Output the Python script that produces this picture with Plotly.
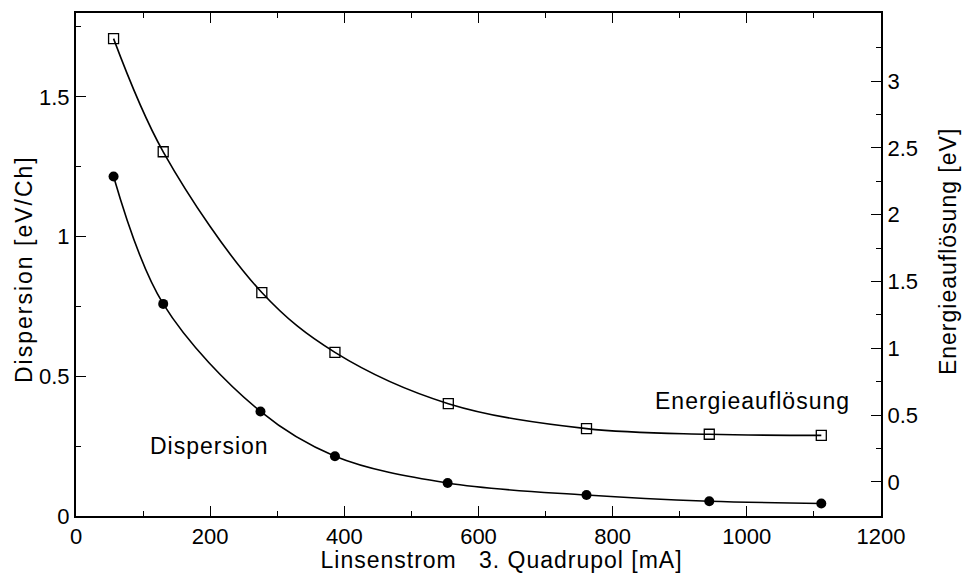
import plotly.graph_objects as go

# Data
strom = [56, 130, 275, 386, 554, 761, 944, 1111]
strom_e = [56, 130, 277, 386, 555, 761, 944, 1111]
dispersion = [1.215, 0.759, 0.374, 0.214, 0.118, 0.075, 0.053, 0.045]
energie = [3.318, 2.471, 1.417, 0.969, 0.585, 0.398, 0.356, 0.348]

x_ticks = [0, 200, 400, 600, 800, 1000, 1200]
y_ticks = [0, 0.5, 1, 1.5]
y_ticklabels = ["0", "0.5", "1", "1.5"]
y2_ticks = [0, 0.5, 1, 1.5, 2, 2.5, 3]
y2_ticklabels = ["0", "0.5", "1", "1.5", "2", "2.5", "3"]

FONT = "Liberation Sans, Arial, sans-serif"

fig = go.Figure()
fig.add_trace(go.Scatter(
    x=strom, y=dispersion, mode="lines+markers",
    line=dict(color="black", width=1.6, shape="spline", smoothing=1.0),
    marker=dict(symbol="circle", size=10, color="black"),
    showlegend=False, name="Dispersion"))
fig.add_trace(go.Scatter(
    x=strom_e, y=energie, mode="lines+markers", yaxis="y2",
    line=dict(color="black", width=1.6, shape="spline", smoothing=1.0),
    marker=dict(symbol="square-open", size=10, color="black", line=dict(width=1.3)),
    showlegend=False, name="Energieauflösung"))

axis_common = dict(showline=True, linecolor="black", linewidth=2, showgrid=False,
                   zeroline=False, ticks="inside", tickcolor="black", tickwidth=1.2,
                   ticklen=10, tickfont=dict(family=FONT, size=22, color="black"))

title_font = dict(family=FONT, size=23, color="black")

fig.update_layout(
    width=965, height=585,
    margin=dict(l=76, r=84, t=11, b=69),
    paper_bgcolor="white", plot_bgcolor="white",
    font=dict(family=FONT, color="black"),
    xaxis=dict(range=[0, 1200], tickvals=x_ticks, mirror="ticks",
               minor=dict(ticks="inside", ticklen=5, dtick=100, tick0=0,
                          tickcolor="black", tickwidth=1.2),
               **axis_common),
    yaxis=dict(range=[0, 1.8], tickvals=y_ticks, ticktext=y_ticklabels,
               minor=dict(ticks="inside", ticklen=5, tickvals=[0.25, 0.75, 1.25, 1.75],
                          tickcolor="black", tickwidth=1.2),
               **axis_common),
    yaxis2=dict(range=[-0.256, 3.51], overlaying="y", side="right",
                tickvals=y2_ticks, ticktext=y2_ticklabels,
                minor=dict(ticks="inside", ticklen=5,
                           tickvals=[0.25, 0.75, 1.25, 1.75, 2.25, 2.75, 3.25],
                           tickcolor="black", tickwidth=1.2),
                **axis_common),
    annotations=[
        # axis titles
        dict(text="Linsenstrom\u00a0\u00a0\u00a03.\u00a0Quadrupol\u00a0[mA]",
             x=0.529, y=-0.0871, xref="paper", yref="paper",
             showarrow=False, xanchor="center", yanchor="middle", font=title_font),
        dict(text="Dispersion [eV/Ch]", textangle=-90,
             x=-0.0652, y=0.490, xref="paper", yref="paper",
             showarrow=False, xanchor="center", yanchor="middle", font=title_font),
        dict(text="Energieauflösung [eV]", textangle=-90,
             x=1.0832, y=0.5257, xref="paper", yref="paper",
             showarrow=False, xanchor="center", yanchor="middle", font=title_font),
        # curve labels
        dict(text="Dispersion", x=199, y=0.25, xref="x", yref="y",
             showarrow=False, xanchor="center", yanchor="middle", font=title_font),
        dict(text="Energieauflösung", x=1008, y=0.413, xref="x", yref="y",
             showarrow=False, xanchor="center", yanchor="middle", font=title_font),
    ],
)

post = """
var gd = document.getElementById('{plot_id}');
var t = gd.querySelectorAll('text.annotation-text');
var sp = ['1px', '2px', '1px', '1px', '1px'];
t.forEach(function(e, i){ e.style.letterSpacing = sp[i] || '1px'; });
"""

fig.write_html("out.html", post_script=post)
